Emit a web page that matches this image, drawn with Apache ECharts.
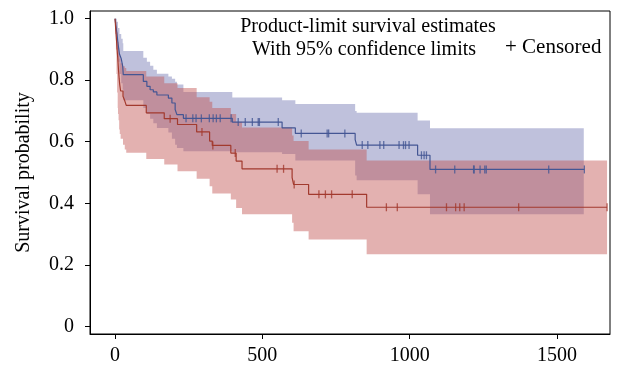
<!DOCTYPE html>
<html><head><meta charset="utf-8">
<script src="https://cdn.jsdelivr.net/npm/echarts@6/dist/echarts.min.js"></script>
<style>html,body{margin:0;padding:0;background:#fff}#c{width:617px;height:371px}</style>
</head><body><div id="c"></div>
<script>
// ---- data ----
const xTicks = [0, 500, 1000, 1500];
const yTicks = [0, 0.2, 0.4, 0.6, 0.8, 1.0];

// group 1 (blue) Kaplan-Meier steps
const blueTimes = [0, 3, 6, 10, 15, 21, 26, 28, 96, 108, 119, 130, 142, 181, 193, 204, 210, 232, 398, 567, 612, 815, 820, 1027, 1069, 1593];
const blueSurv  = [1, 0.975, 0.955, 0.92, 0.885, 0.87, 0.845, 0.818, 0.796, 0.78, 0.769, 0.762, 0.752, 0.742, 0.726, 0.705, 0.688, 0.676, 0.664, 0.645, 0.627, 0.607, 0.589, 0.556, 0.51, 0.51];
const blueCensored = [241, 264, 275, 293, 320, 333, 344, 357, 394, 418, 442, 466, 486, 490, 554, 632, 720, 725, 780, 839, 858, 899, 912, 964, 979, 986, 998, 1040, 1049, 1057, 1088, 1153, 1217, 1219, 1239, 1255, 1260, 1472, 1593];
const blueBandTimes = [0, 3, 6, 10, 15, 21, 26, 28, 96, 108, 119, 130, 142, 181, 193, 204, 210, 232, 398, 567, 612, 815, 820, 1027, 1069, 1591];
const blueLower = [1, 0.93, 0.90, 0.86, 0.82, 0.79, 0.77, 0.735, 0.71, 0.69, 0.675, 0.66, 0.645, 0.63, 0.61, 0.59, 0.58, 0.569, 0.566, 0.56, 0.539, 0.49, 0.475, 0.429, 0.364, 0.364];
const blueUpper = [1, 1, 0.99, 0.97, 0.95, 0.935, 0.92, 0.895, 0.873, 0.86, 0.847, 0.834, 0.821, 0.812, 0.805, 0.795, 0.786, 0.762, 0.744, 0.735, 0.723, 0.70, 0.694, 0.669, 0.644, 0.644];

// group 2 (red) Kaplan-Meier steps
const redTimes = [0, 1, 3, 5, 7, 9, 10, 12, 14, 16, 19, 27, 33, 38, 106, 167, 212, 277, 321, 330, 393, 411, 431, 601, 606, 657, 854, 1670];
const redSurv  = [1, 0.985, 0.955, 0.93, 0.90, 0.875, 0.86, 0.83, 0.805, 0.785, 0.765, 0.748, 0.733, 0.718, 0.694, 0.675, 0.656, 0.632, 0.602, 0.588, 0.563, 0.537, 0.512, 0.483, 0.461, 0.429, 0.387, 0.387];
const redCensored = [187, 295, 332, 408, 550, 572, 608, 692, 714, 735, 805, 921, 958, 1125, 1156, 1170, 1185, 1370, 1670];
const redBandTimes = [0, 1, 3, 5, 7, 9, 10, 12, 14, 16, 19, 27, 33, 38, 106, 167, 212, 277, 321, 330, 393, 411, 431, 601, 606, 657, 854, 1670];
const redLower = [1, 0.95, 0.90, 0.82, 0.76, 0.71, 0.69, 0.67, 0.64, 0.625, 0.61, 0.59, 0.575, 0.564, 0.544, 0.526, 0.504, 0.48, 0.455, 0.432, 0.412, 0.385, 0.364, 0.337, 0.309, 0.282, 0.234, 0.234];
const redUpper = [1, 1, 0.99, 0.975, 0.955, 0.935, 0.925, 0.905, 0.885, 0.87, 0.855, 0.845, 0.84, 0.83, 0.812, 0.79, 0.775, 0.745, 0.73, 0.71, 0.69, 0.665, 0.646, 0.62, 0.602, 0.575, 0.539, 0.539];

const titleLines = ['Product-limit survival estimates', 'With 95% confidence limits'];
const censorLabel = '+ Censored';
const yName = 'Survival probability';

// ---- helpers ----
function pairs(ts, vs) { return ts.map((t, i) => [t, vs[i]]); }
function bandRows(ts, lo, up) { return ts.map((t, i) => [t, lo[i], up[i]]); }
function survAt(ts, vs, t) { let k = 0; for (let i = 0; i < ts.length; i++) { if (ts[i] <= t) k = i; } return vs[k]; }
function censorPts(cs, ts, vs) { return cs.map(t => [t, survAt(ts, vs, t)]); }

function bandRender(rows, fill) {
  return function (params, api) {
    if (params.dataIndex !== 0) return null;
    const up = [], lo = [];
    for (let i = 0; i < rows.length; i++) {
      const t0 = rows[i][0];
      const t1 = i + 1 < rows.length ? rows[i + 1][0] : rows[i][0];
      up.push(api.coord([t0, rows[i][2]]), api.coord([t1, rows[i][2]]));
      lo.push(api.coord([t0, rows[i][1]]), api.coord([t1, rows[i][1]]));
    }
    return { type: 'polygon', shape: { points: up.concat(lo.reverse()) }, style: { fill: fill } };
  };
}

const BLUE = '#445694', RED = '#A23A2E';
const FONT = '"Liberation Serif", "Times New Roman", serif';
const blueRows = bandRows(blueBandTimes, blueLower, blueUpper);
const redRows = bandRows(redBandTimes, redLower, redUpper);

const chart = echarts.init(document.getElementById('c'), null, { renderer: 'canvas' });
chart.setOption({
  animation: false,
  backgroundColor: '#fff',
  grid: { left: 90, top: 11, width: 520, height: 323, show: true, borderColor: '#000', borderWidth: 1, backgroundColor: 'transparent' },
  xAxis: {
    type: 'value', min: -85, max: 1680,
    splitLine: { show: false },
    axisLine: { show: true, onZero: false, lineStyle: { color: '#000', width: 1 } },
    axisTick: { show: true, length: 5, lineStyle: { color: '#000' }, customValues: xTicks },
    axisLabel: { color: '#000', fontFamily: FONT, fontSize: 20, margin: 12, customValues: xTicks,
      formatter: v => String(v) }
  },
  yAxis: {
    type: 'value', min: -0.025, max: 1.025,
    name: yName, nameLocation: 'middle', nameGap: 56, nameRotate: 90,
    nameTextStyle: { color: '#000', fontFamily: FONT, fontSize: 20 },
    splitLine: { show: false },
    axisLine: { show: true, onZero: false, lineStyle: { color: '#000', width: 1 } },
    axisTick: { show: true, length: 5, lineStyle: { color: '#000' }, customValues: yTicks },
    axisLabel: { color: '#000', fontFamily: FONT, fontSize: 20, margin: 16, customValues: yTicks,
      formatter: v => (Math.abs(v) < 1e-9 ? '0' : v.toFixed(1)) }
  },
  graphic: [
    { type: 'text', x: 368, y: 27, style: { text: titleLines[0], fill: '#000', font: '20px ' + FONT, textAlign: 'center', textVerticalAlign: 'middle' } },
    { type: 'text', x: 364, y: 50, style: { text: titleLines[1], fill: '#000', font: '20px ' + FONT, textAlign: 'center', textVerticalAlign: 'middle' } },
    { type: 'text', x: 505, y: 47, style: { text: censorLabel, fill: '#000', font: '21px ' + FONT, textAlign: 'left', textVerticalAlign: 'middle' } }
  ],
  series: [
    { type: 'custom', name: 'blueBand', coordinateSystem: 'cartesian2d', silent: true, z: 1,
      data: blueRows, encode: { x: 0, y: [1, 2] }, renderItem: bandRender(blueRows, 'rgba(113,117,177,0.45)') },
    { type: 'custom', name: 'redBand', coordinateSystem: 'cartesian2d', silent: true, z: 2,
      data: redRows, encode: { x: 0, y: [1, 2] }, renderItem: bandRender(redRows, 'rgba(193,82,79,0.45)') },
    { type: 'line', name: 'blue', step: 'end', data: pairs(blueTimes, blueSurv), showSymbol: false, z: 5,
      lineStyle: { color: BLUE, width: 1.2 }, itemStyle: { color: BLUE } },
    { type: 'line', name: 'red', step: 'end', data: pairs(redTimes, redSurv), showSymbol: false, z: 5,
      lineStyle: { color: RED, width: 1.2 }, itemStyle: { color: RED } },
    { type: 'scatter', name: 'blueC', data: censorPts(blueCensored, blueTimes, blueSurv), symbol: 'rect', symbolSize: [1.3, 8], z: 6,
      itemStyle: { color: BLUE } },
    { type: 'scatter', name: 'redC', data: censorPts(redCensored, redTimes, redSurv), symbol: 'rect', symbolSize: [1.3, 8], z: 6,
      itemStyle: { color: RED } }
  ]
});
</script></body></html>
